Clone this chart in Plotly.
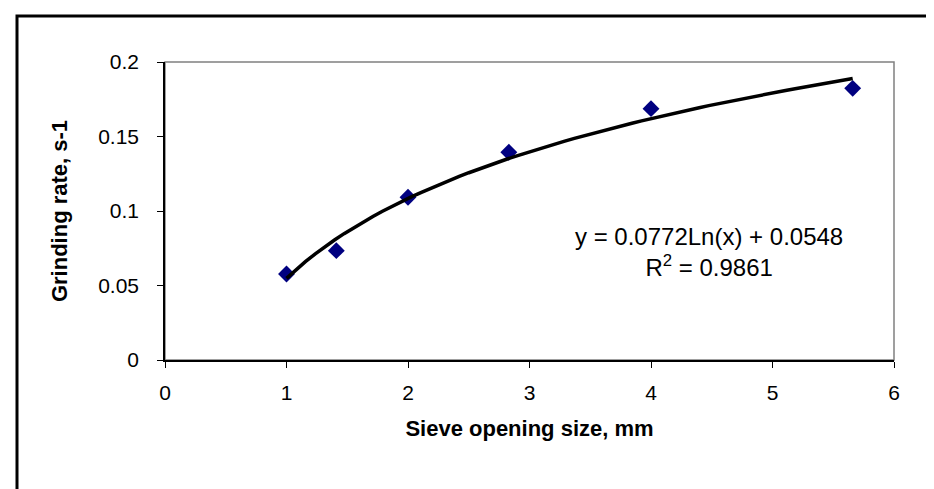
import numpy as np
import plotly.graph_objects as go

# Data
sieve_mm = [1.0, 1.41, 2.0, 2.83, 4.0, 5.66]
grinding_rate = [0.0577, 0.0734, 0.1092, 0.1394, 0.1687, 0.1823]
x_ticks = [0, 1, 2, 3, 4, 5, 6]
y_ticks = [0, 0.05, 0.1, 0.15, 0.2]
y_tick_text = ["0", "0.05", "0.1", "0.15", "0.2"]
equation_text = "y = 0.0772Ln(x) + 0.0548<br>R<sup>2</sup> = 0.9861"

# Logarithmic trendline fitted to the data (as the spreadsheet does)
lx = np.log(sieve_mm)
slope, intercept = np.polyfit(lx, grinding_rate, 1)
x_fit = np.linspace(min(sieve_mm), max(sieve_mm), 60)
y_fit = slope * np.log(x_fit) + intercept

W, H = 934, 489
L, R, T, B = 157, 886, 54, 352

fig = go.Figure()
fig.add_trace(go.Scatter(
    x=sieve_mm, y=grinding_rate, mode="markers",
    marker=dict(symbol="diamond", size=13, color="#000080",
                line=dict(width=0)),
    showlegend=False, hoverinfo="x+y"))
fig.add_trace(go.Scatter(
    x=x_fit, y=y_fit, mode="lines",
    line=dict(color="black", width=3.5),
    showlegend=False, hoverinfo="skip"))

font_family = "Liberation Sans, Arial, sans-serif"

fig.update_layout(
    width=W, height=H,
    margin=dict(l=L, r=W - R, t=T, b=H - B),
    paper_bgcolor="white", plot_bgcolor="white",
    font=dict(family=font_family, size=21, color="black"),
    xaxis=dict(range=[0, 6], tickvals=x_ticks, ticks="outside", ticklen=6,
               tickcolor="black", tickwidth=1, showline=True, linecolor="black",
               linewidth=1.5, showgrid=False, zeroline=False,
               ticklabelstandoff=7,
               title=dict(text="<b>Sieve opening size, mm</b>",
                          font=dict(size=22), standoff=18)),
    yaxis=dict(range=[0, 0.2], tickvals=y_ticks, ticktext=y_tick_text,
               ticks="outside", ticklen=6, tickcolor="black", tickwidth=1,
               showline=True, linecolor="black", linewidth=1.5,
               showgrid=False, zeroline=False, ticklabelstandoff=14,
               title=dict(text="<b>Grinding rate, s-1</b>",
                          font=dict(size=22), standoff=24)),
    shapes=[
        # plot-area border (gray)
        dict(type="rect", xref="paper", yref="paper", x0=0, x1=1, y0=0, y1=1,
             line=dict(color="#808080", width=1.5), layer="below"),
        # outer chart border (extends past the image on right/bottom)
        dict(type="rect", xref="paper", yref="paper",
             x0=(9 - L) / (R - L), x1=(1200 - L) / (R - L),
             y0=(B - 900) / (B - T), y1=(B - 8) / (B - T),
             line=dict(color="black", width=3), layer="below"),
    ],
    annotations=[
        dict(text=equation_text, x=(701 - L) / (R - L), y=(B - 244) / (B - T),
             xref="paper", yref="paper", showarrow=False, align="center",
             font=dict(size=24), xanchor="center", yanchor="middle"),
    ],
)

fig.write_html("out.html")
